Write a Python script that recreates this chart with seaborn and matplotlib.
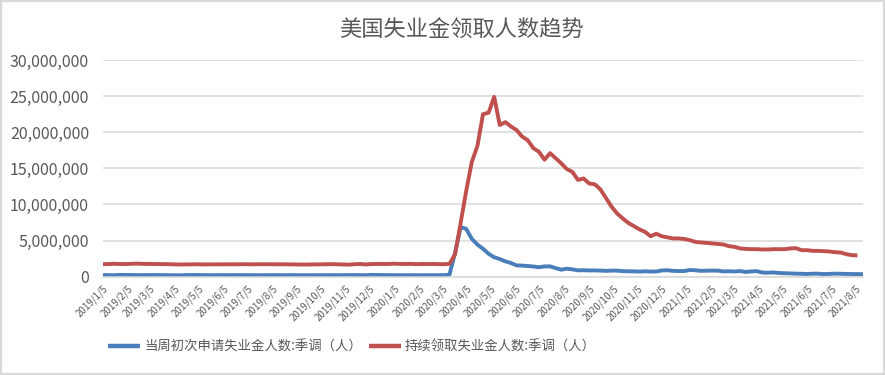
import matplotlib
matplotlib.use("Agg")
import matplotlib.pyplot as plt
import matplotlib.dates as mdates
from matplotlib.ticker import FuncFormatter
from matplotlib.patches import Rectangle
import seaborn as sns
import pandas as pd
import numpy as np

# ---------------- data (weekly, seasonally adjusted) ----------------
initial_start = "2019-01-05"
continuing_start = "2019-01-05"

# 当周初次申请失业金人数 (thousands)
initial_claims_k = [
    # 2019
    233, 213, 199, 253, 234, 239, 216, 226, 223, 230,
    221, 211, 202, 196, 192, 230, 230, 228, 212, 211,
    215, 218, 222, 216, 227, 221, 209, 216, 206, 215,
    209, 220, 209, 215, 217, 204, 208, 213, 219, 210,
    214, 212, 218, 211, 225, 227, 213, 203, 252, 234,
    222, 222,
    # 2020
    214, 204, 211, 216, 202, 205, 211, 219, 216, 211,
    282, 3307, 6867, 6615, 5237, 4442, 3867, 3176, 2687, 2446,
    2123, 1897, 1566, 1540, 1482, 1413, 1310, 1422, 1435, 1186,
    971, 1104, 1011, 881, 893, 866, 873, 849, 804, 845,
    842, 770, 758, 738, 711, 748, 716, 716, 862, 892,
    806, 787,
    # 2021
    784, 926, 886, 812, 837, 848, 841, 736, 754, 725,
    781, 658, 728, 769, 576, 553, 590, 507, 478, 444,
    405, 385, 375, 418, 415, 364, 386, 424, 399, 387,
    375, 349, 348,
]

# 持续领取失业金人数 (millions)
continuing_claims_m = [
    # 2019
    1.74, 1.75, 1.79, 1.76, 1.75, 1.78, 1.81, 1.78, 1.77, 1.75,
    1.76, 1.74, 1.73, 1.70, 1.69, 1.70, 1.71, 1.72, 1.70, 1.71,
    1.71, 1.71, 1.72, 1.72, 1.72, 1.73, 1.72, 1.71, 1.73, 1.73,
    1.74, 1.72, 1.72, 1.71, 1.69, 1.70, 1.68, 1.69, 1.70, 1.72,
    1.71, 1.74, 1.72, 1.71, 1.67, 1.73, 1.76, 1.70, 1.75, 1.76,
    1.77, 1.76,
    # 2020
    1.80, 1.77, 1.76, 1.78, 1.74, 1.76, 1.75, 1.76, 1.75, 1.73,
    1.78, 3.10, 7.45, 11.9, 15.9, 18.1, 22.5, 22.7, 24.9, 21.0,
    21.4, 20.8, 20.3, 19.4, 18.9, 17.8, 17.3, 16.2, 17.1, 16.4,
    15.7, 14.9, 14.5, 13.4, 13.6, 12.9, 12.8, 12.1, 10.9, 9.7,
    8.75, 8.07, 7.45, 7.0, 6.55, 6.2, 5.6, 5.95, 5.6, 5.45,
    5.3, 5.3,
    # 2021
    5.22, 5.06, 4.82, 4.74, 4.68, 4.60, 4.54, 4.46, 4.23, 4.13,
    3.91, 3.85, 3.81, 3.81, 3.77, 3.77, 3.81, 3.81, 3.81, 3.91,
    3.95, 3.67, 3.67, 3.58, 3.58, 3.53, 3.49, 3.39, 3.35, 3.12,
    2.98, 2.94,
]

series_names = ["当周初次申请失业金人数:季调（人）", "持续领取失业金人数:季调（人）"]
series_colors = ["#4a7ebb", "#c0504d"]
title_text = "美国失业金领取人数趋势"
yticks = [0, 5_000_000, 10_000_000, 15_000_000, 20_000_000, 25_000_000, 30_000_000]
x_min, x_max = "2019-01-05", "2021-08-14"

# ---------------- build long-form table ----------------
d1 = pd.date_range(initial_start, periods=len(initial_claims_k), freq="7D")
d2 = pd.date_range(continuing_start, periods=len(continuing_claims_m), freq="7D")
df = pd.concat([
    pd.DataFrame({"date": d1, "value": np.array(initial_claims_k) * 1000.0, "series": series_names[0]}),
    pd.DataFrame({"date": d2, "value": np.array(continuing_claims_m) * 1e6, "series": series_names[1]}),
], ignore_index=True)

# ---------------- style ----------------
sns.set_style("white")
plt.rcParams["font.family"] = ["Noto Sans CJK SC", "DejaVu Sans"]
text_color = "#595959"
grid_color = "#d9d9d9"

fig = plt.figure(figsize=(8.85, 3.75), dpi=100)
ax = fig.add_axes([103 / 885, 1 - 276.7 / 375, (863 - 103) / 885, (276.7 - 60) / 375])

sns.lineplot(data=df, x="date", y="value", hue="series", hue_order=series_names,
             palette=dict(zip(series_names, series_colors)), linewidth=2.8,
             ax=ax, legend=False)
for ln in ax.get_lines():
    ln.set_solid_joinstyle("round")
    ln.set_solid_capstyle("butt")

ax.set_ylim(0, 30_000_000)
ax.set_xlim(pd.Timestamp(x_min), pd.Timestamp(x_max))
ax.set_yticks(yticks)
ax.yaxis.set_major_formatter(FuncFormatter(lambda v, p: f"{int(v):,}"))
ax.grid(axis="y", color=grid_color, linewidth=1.1)
ax.set_axisbelow(True)
ax.set_xlabel("")
ax.set_ylabel("")

ax.xaxis.set_major_locator(mdates.MonthLocator(bymonthday=5))
ax.xaxis.set_major_formatter(FuncFormatter(
    lambda v, p: (lambda d: f"{d.year}/{d.month}/{d.day}")(mdates.num2date(v))))

for s in ["top", "right", "left"]:
    ax.spines[s].set_visible(False)
ax.spines["bottom"].set_color(grid_color)
ax.spines["bottom"].set_linewidth(1.1)

ax.tick_params(axis="y", length=0, pad=10, labelsize=11.5, labelcolor=text_color)
ax.tick_params(axis="x", length=4, width=1, color=grid_color, direction="out",
               pad=1, labelsize=7, labelcolor=text_color)
for lab in ax.get_xticklabels():
    lab.set_rotation(45)
    lab.set_ha("right")
    lab.set_va("top")
    lab.set_rotation_mode("anchor")

fig.text(461 / 885, 1 - 30 / 375, title_text, ha="center", va="center",
         fontsize=16, color=text_color)

handles = ax.get_lines()[:2]
leg = fig.legend(handles, series_names, loc="center", bbox_to_anchor=(352 / 885, 1 - 347 / 375),
                 ncol=2, frameon=False, fontsize=9.6, handlelength=2.4,
                 handletextpad=0.3, columnspacing=0.5, labelcolor=text_color)
for h in leg.legend_handles:
    h.set_linewidth(3.2)

# chart border
fig.add_artist(Rectangle((1 / 885, 1.5 / 375), 882.5 / 885, 372.5 / 375,
                         transform=fig.transFigure, fill=False,
                         edgecolor=grid_color, linewidth=1.6))

fig.savefig("out.png", dpi=100)
